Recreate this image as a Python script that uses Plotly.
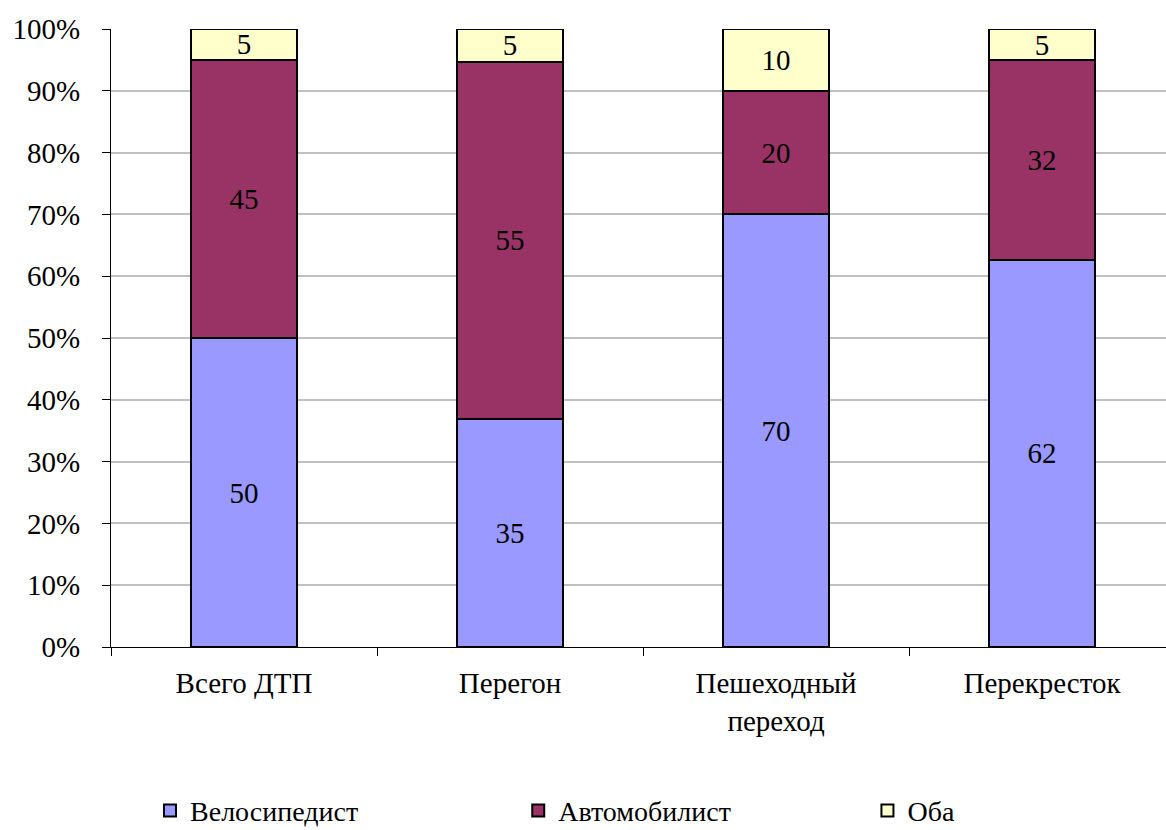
import plotly.graph_objects as go

categories = ["Всего ДТП", "Перегон", "Пешеходный<br>переход", "Перекресток"]
cyclist = [50, 35, 70, 62]
driver = [45, 55, 20, 32]
both = [5, 5, 10, 5]

series = [
    ("Велосипедист", cyclist, "#9999FF", "legend"),
    ("Автомобилист", driver, "#993366", "legend2"),
    ("Оба", both, "#FFFFCC", "legend3"),
]

FONT = "Liberation Serif"
SIZE = 29
LEGEND_SIZE = 28

fig = go.Figure()
for name, vals, color, leg in series:
    fig.add_trace(go.Bar(
        name=name,
        x=categories,
        y=vals,
        text=[str(v) for v in vals],
        textposition="inside",
        insidetextanchor="middle",
        textangle=0,
        textfont=dict(family=FONT, size=SIZE, color="black"),
        marker=dict(color=color, line=dict(color="black", width=2)),
        width=0.4,
        legend=leg,
    ))

# one legend box per series, spaced along the bottom
legend_x = {"legend": 0.037, "legend2": 0.386, "legend3": 0.717}
legends = {
    key: dict(
        orientation="h",
        x=x,
        xanchor="left",
        y=-0.265,
        yanchor="middle",
        font=dict(family=FONT, size=LEGEND_SIZE, color="black"),
        bgcolor="rgba(0,0,0,0)",
    )
    for key, x in legend_x.items()
}

fig.update_layout(
    width=1166,
    height=830,
    barmode="stack",
    barnorm="percent",
    plot_bgcolor="white",
    paper_bgcolor="white",
    margin=dict(l=111, r=0, t=29, b=183, autoexpand=False),
    font=dict(family=FONT, size=SIZE, color="black"),
    uniformtext=dict(minsize=SIZE, mode="show"),
    showlegend=True,
    **legends,
)

fig.update_xaxes(
    type="category",
    range=[-0.5, 3.466],
    showline=True,
    linecolor="black",
    linewidth=1,
    ticks="outside",
    tickson="boundaries",
    ticklen=8,
    tickcolor="black",
    ticklabelstandoff=10,
    showgrid=False,
    tickfont=dict(family=FONT, size=SIZE, color="black"),
)

fig.update_yaxes(
    range=[0, 100],
    dtick=10,
    ticksuffix="%",
    showline=True,
    linecolor="black",
    linewidth=1,
    ticks="outside",
    ticklen=8,
    tickcolor="black",
    ticklabelstandoff=16,
    showgrid=True,
    gridcolor="#C0C0C0",
    gridwidth=2,
    zeroline=False,
    tickfont=dict(family=FONT, size=SIZE, color="black"),
)

fig.write_html("out.html")
